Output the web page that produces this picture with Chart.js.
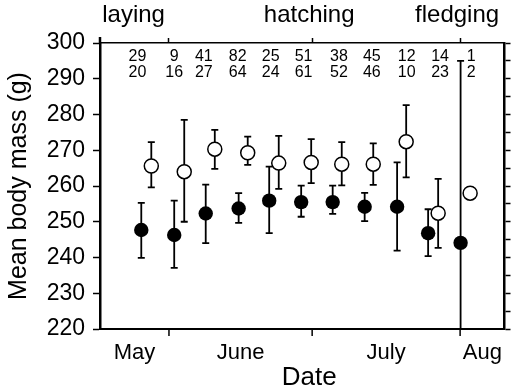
<!DOCTYPE html>
<html lang="en">
<head>
<meta charset="UTF-8">
<script src="https://cdn.jsdelivr.net/npm/chart.js"></script>
<title>Mean body mass</title>
<style>
  html, body { margin: 0; padding: 0; background: #fff; }
  #wrap { width: 513px; height: 391px; }
</style>
</head>
<body>
<div id="wrap"><canvas id="massa"></canvas></div>
<script>
// days are counted from 1 May
const filledDays = [25.2, 32.1, 38.7, 45.6, 52.0, 58.7, 65.3, 72.0, 78.8, 85.3, 92.1];
const filledMass = [247.7, 246.3, 252.3, 253.7, 255.9, 255.5, 255.5, 254.2, 254.2, 246.8, 244.1];
const filledLow  = [239.9, 237.1, 244.0, 249.7, 246.8, 251.4, 252.2, 250.2, 241.9, 240.4, 220.0];
const filledHigh = [255.3, 255.9, 260.4, 258.0, 265.4, 260.1, 260.1, 258.1, 266.6, 253.5, 295.0];

const openDays = [27.3, 34.2, 40.6, 47.5, 54.0, 60.8, 67.2, 73.8, 80.7, 87.4, 94.1];
const openMass = [265.6, 264.0, 270.3, 269.3, 266.4, 266.6, 266.1, 266.1, 272.4, 252.4, 258.0];
const openLow  = [259.6, 250.0, 264.8, 265.9, 259.2, 260.8, 260.2, 260.3, 262.4, 242.7, null];
const openHigh = [272.3, 278.5, 275.7, 273.8, 274.0, 273.1, 272.3, 271.9, 282.6, 262.0, null];

const countDays = [24.4, 32.1, 38.3, 45.4, 52.3, 59.2, 66.6, 73.5, 80.8, 87.8, 94.3];
const countsTop = [29, 9, 41, 82, 25, 51, 38, 45, 12, 14, 1];
const countsBottom = [20, 16, 27, 64, 24, 61, 52, 46, 10, 23, 2];

const monthNames = ['May', 'June', 'July', 'Aug'];
const monthStarts = [31, 61, 92];   // 1 June, 1 July, 1 Aug
const stageNames = ['laying', 'hatching', 'fledging'];
const stageDays = [31, 61, 92];
const yTicks = [220, 230, 240, 250, 260, 270, 280, 290, 300];
const dayMin = 16.55, dayMax = 101.3;

const FONT = '"Liberation Sans", Arial, Helvetica, sans-serif';

// month label sits in the middle of its stretch of days
const edges = [dayMin].concat(monthStarts, [dayMax]);
const monthMids = monthNames.map((m, i) => (edges[i] + edges[i + 1]) / 2);

function pts(xs, ys) {
    return xs.map((x, i) => ({ x: x, y: ys[i] }));
}

const barras = {
    id: 'barras',
    beforeDatasetsDraw(chart) {
        const ctx = chart.ctx;
        const xs = chart.scales.x, ys = chart.scales.y;
        const sets = [[filledDays, filledLow, filledHigh], [openDays, openLow, openHigh]];
        ctx.save();
        ctx.strokeStyle = '#000';
        ctx.lineWidth = 1.8;
        sets.forEach(s => {
            s[0].forEach((d, i) => {
                if (s[1][i] == null) return;
                const px = xs.getPixelForValue(d);
                const lo = ys.getPixelForValue(s[1][i]);
                const hi = ys.getPixelForValue(s[2][i]);
                ctx.beginPath();
                ctx.moveTo(px, lo); ctx.lineTo(px, hi);
                ctx.moveTo(px - 3.5, lo); ctx.lineTo(px + 3.5, lo);
                ctx.moveTo(px - 3.5, hi); ctx.lineTo(px + 3.5, hi);
                ctx.stroke();
            });
        });
        ctx.restore();
    },
    afterDraw(chart) {
        const ctx = chart.ctx;
        const xs = chart.scales.x, ys = chart.scales.y;
        const area = chart.chartArea;
        ctx.save();
        // month boundaries on the date axis
        ctx.strokeStyle = '#000';
        ctx.lineWidth = 1.5;
        monthStarts.forEach(d => {
            const px = xs.getPixelForValue(d);
            ctx.beginPath();
            ctx.moveTo(px, area.bottom);
            ctx.lineTo(px, area.bottom + 7);
            ctx.stroke();
        });
        // left axis pokes a little above the frame, like the original
        ctx.lineWidth = 2.5;
        ctx.beginPath();
        ctx.moveTo(area.left, area.top);
        ctx.lineTo(area.left, area.top - 6);
        ctx.stroke();
        // sample sizes
        ctx.fillStyle = '#000';
        ctx.font = '16px ' + FONT;
        ctx.textAlign = 'center';
        ctx.textBaseline = 'middle';
        countDays.forEach((d, i) => {
            const px = xs.getPixelForValue(d);
            ctx.fillText(String(countsTop[i]), px, ys.getPixelForValue(296.1));
            ctx.fillText(String(countsBottom[i]), px, ys.getPixelForValue(291.6));
        });
        // breeding stages above the frame
        ctx.font = '24px ' + FONT;
        ctx.textBaseline = 'alphabetic';
        stageDays.forEach((d, i) => {
            const px = xs.getPixelForValue(d);
            if (i === 0) {
                ctx.textAlign = 'right';
                ctx.fillText(stageNames[i], px - 4, 22);
            } else {
                ctx.textAlign = 'center';
                ctx.fillText(stageNames[i], px - 3, 22);
            }
        });
        // axis title, centred under the middle of the date range as drawn
        ctx.font = '26px ' + FONT;
        ctx.textAlign = 'center';
        ctx.fillText('Date', (area.left + area.right) / 2 + 7, 385);
        ctx.restore();
    }
};

const ctx = document.getElementById('massa').getContext('2d');
new Chart(ctx, {
    type: 'scatter',
    data: {
        datasets: [{
            label: 'open',
            data: pts(openDays, openMass),
            pointRadius: 7,
            pointBackgroundColor: '#fff',
            pointBorderColor: '#000',
            pointBorderWidth: 1.5,
            showLine: false
        }, {
            label: 'filled',
            data: pts(filledDays, filledMass),
            pointRadius: 7.2,
            pointBackgroundColor: '#000',
            pointBorderColor: '#000',
            pointBorderWidth: 0,
            showLine: false
        }]
    },
    options: {
        responsive: true,
        maintainAspectRatio: false,
        animation: false,
        layout: { padding: 0 },
        plugins: {
            legend: { display: false },
            tooltip: { enabled: false }
        },
        scales: {
            x: {
                type: 'linear',
                position: 'bottom',
                min: dayMin,
                max: dayMax,
                afterBuildTicks: s => { s.ticks = monthMids.map(v => ({ value: v })); },
                afterFit: s => { s.height = 62; },
                ticks: {
                    autoSkip: false,
                    maxRotation: 0,
                    padding: 3,
                    color: '#000',
                    font: { family: FONT, size: 22 },
                    callback: (v, i) => monthNames[i]
                },
                grid: { display: false },
                border: { display: true, color: '#000', width: 2 }
            },
            top: {
                type: 'linear',
                position: 'top',
                min: dayMin,
                max: dayMax,
                afterBuildTicks: s => { s.ticks = stageDays.map(v => ({ value: v })); },
                afterFit: s => { s.height = 43; },
                ticks: { display: false },
                grid: {
                    drawOnChartArea: false,
                    tickLength: 5,
                    tickColor: '#000',
                    tickWidth: 1.5
                },
                border: { display: true, color: '#000', width: 1.5 }
            },
            y: {
                type: 'linear',
                position: 'left',
                min: 220,
                max: 300,
                afterFit: s => { s.width = 100; },
                ticks: {
                    stepSize: 5,
                    padding: 8,
                    color: '#000',
                    font: { family: FONT, size: 23 },
                    callback: v => yTicks.includes(v) ? String(v) : ''
                },
                grid: {
                    drawOnChartArea: false,
                    tickLength: 7,
                    tickColor: '#000',
                    tickWidth: 1.5
                },
                border: { display: true, color: '#000', width: 2.5 },
                title: {
                    display: true,
                    text: 'Mean body mass (g)',
                    color: '#000',
                    font: { family: FONT, size: 25 },
                    padding: { top: 4, bottom: 0 }
                }
            },
            right: {
                type: 'linear',
                position: 'right',
                min: 220,
                max: 300,
                afterFit: s => { s.width = 4; },
                ticks: { display: false, stepSize: 5 },
                grid: {
                    drawOnChartArea: false,
                    tickLength: 6,
                    tickColor: '#000',
                    tickWidth: 1.5
                },
                border: { display: true, color: '#000', width: 2.5 }
            }
        }
    },
    plugins: [barras]
});
</script>
</body>
</html>
